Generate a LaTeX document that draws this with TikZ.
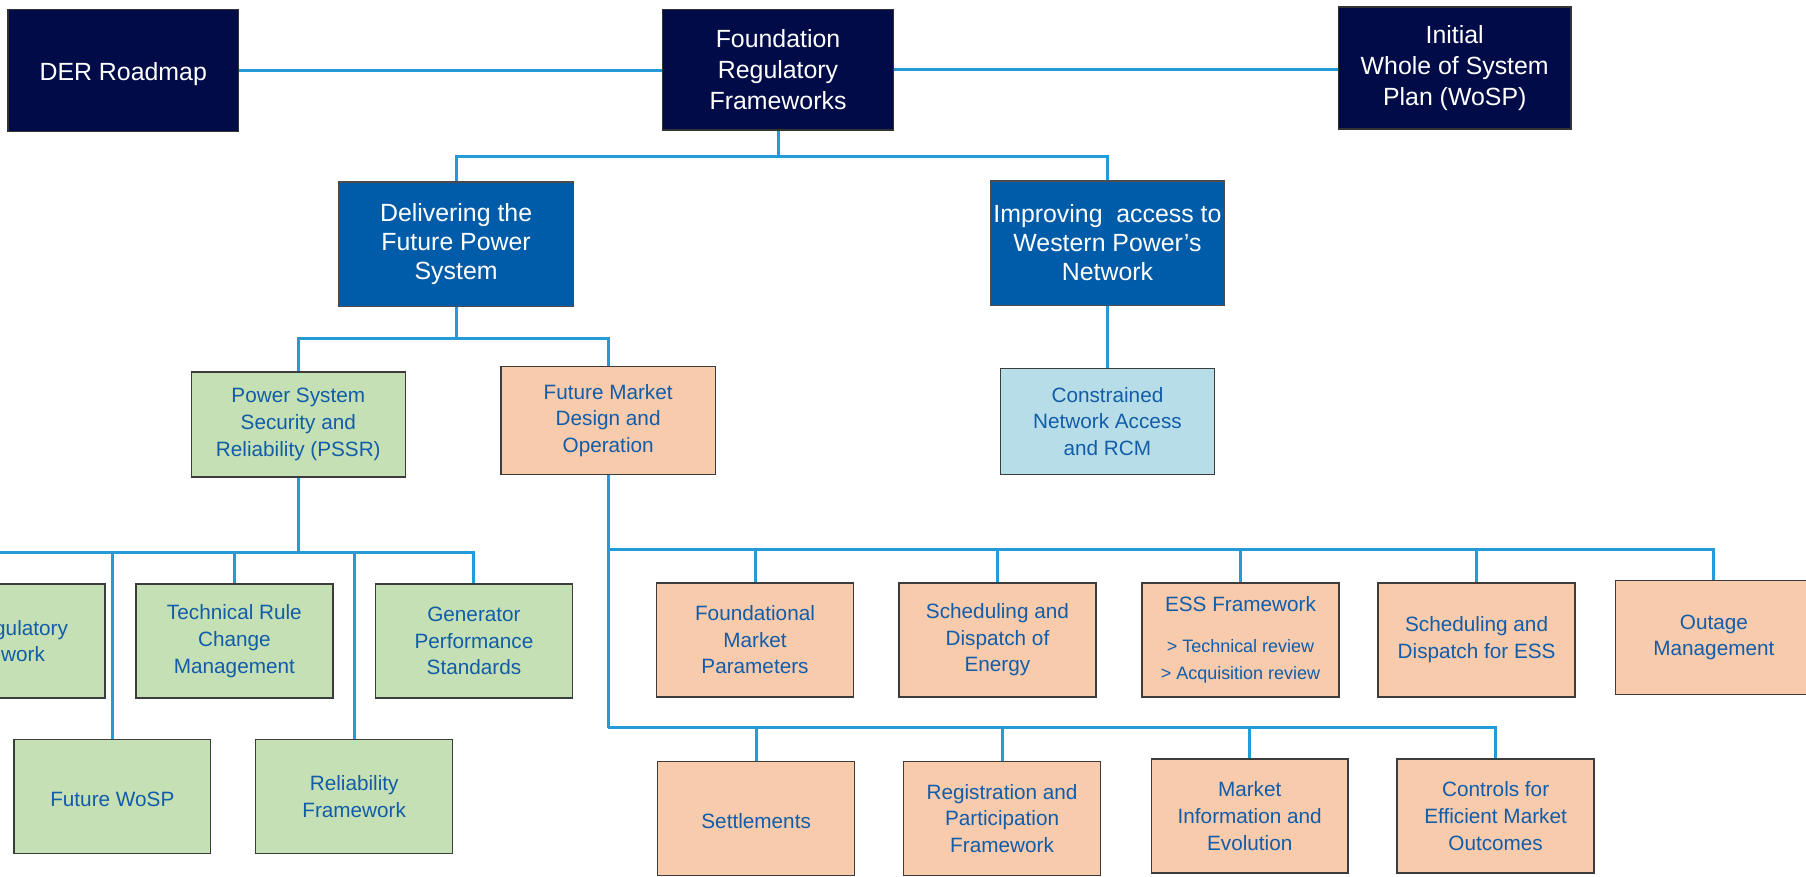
\documentclass[tikz,border=0pt]{standalone}
\usepackage{fontspec}
\setmainfont{Liberation Sans}
\definecolor{navyfill}{RGB}{0,11,72}
\definecolor{bluefill}{RGB}{0,92,168}
\definecolor{greenfill}{RGB}{197,224,180}
\definecolor{peachfill}{RGB}{248,203,173}
\definecolor{icefill}{RGB}{183,222,232}
\definecolor{linkblue}{RGB}{36,154,214}
\definecolor{labelblue}{RGB}{18,92,168}
\definecolor{edgegray}{RGB}{60,60,60}
\newcommand\navytxt{\fontsize{10.8}{13.5}\selectfont}
\newcommand\streamtxt{\fontsize{10.8}{12.6}\selectfont}
\newcommand\smalltxt{\fontsize{9}{11.6}\selectfont}
\newcommand\tinytxt{\fontsize{7.8}{11}\selectfont}
\tikzset{
  box/.style={draw=edgegray, line width=0.6pt, inner sep=0pt, align=center,
    font=\smalltxt, text=labelblue, minimum width=85.5pt, minimum height=49.5pt,
    execute at begin node={\rule{0pt}{1em}}},
  topbox/.style={box, fill=navyfill, draw=black!80, text=white, font=\navytxt,
    minimum width=100pt, minimum height=53pt},
  streambox/.style={box, fill=bluefill, draw=black!70, text=white, font=\streamtxt,
    minimum width=102pt, minimum height=54pt},
  greenbox/.style={box, fill=greenfill},
  peachbox/.style={box, fill=peachfill},
  icebox/.style={box, fill=icefill},
  link/.style={draw=linkblue, line width=1.3pt}
}
\begin{document}
\begin{tikzpicture}[x=0.5pt,y=-0.5pt]
\useasboundingbox (0,0) rectangle (1568,761);
\clip (0,0) rectangle (1568,761);
\fill[white] (0,0) rectangle (1568,761);

% junction points of the bus lines
\coordinate (busTop) at (675.5,136);
\coordinate (busDel) at (396,294);
\coordinate (busPssr) at (259,480);
\coordinate (busMktA) at (528,477);
\coordinate (busMktB) at (528,632);
\coordinate (busLeft) at (-20,480);

% top row
\node[topbox] (der) at (107,61) {DER Roadmap};
\node[topbox, minimum width=100.5pt, minimum height=52.5pt] (frf) at (675.5,60.5) {Foundation\\Regulatory\\Frameworks};
\node[topbox, minimum width=101pt] (wosp) at (1263,59) {Initial\\Whole of System\\Plan (WoSP)};

% streams
\node[streambox] (dfps) at (396,212) {Delivering the\\Future Power\\System};
\node[streambox, minimum width=101.5pt] (iawp) at (961.5,211) {Improving\ \ access to\\Western Power’s\\Network};

% second level
\node[greenbox, minimum width=93pt, minimum height=45.5pt] (pssr) at (259,368.5) {Power System\\Security and\\Reliability (PSSR)};
\node[peachbox, minimum width=93pt, minimum height=47pt] (fmdo) at (528,365) {Future Market\\Design and\\Operation};
\node[icebox, minimum width=93pt, minimum height=46pt] (cna) at (961.5,366) {Constrained\\Network Access\\and RCM};

% PSSR work items
\node[greenbox, minimum width=97pt] (drf) at (-6,556.5) {DER Regulatory\\Framework};
\node[greenbox] (trcm) at (203.5,556.5) {Technical Rule\\Change\\Management};
\node[greenbox] (gps) at (411.5,556.5) {Generator\\Performance\\Standards};
\node[greenbox] (fwosp) at (97.5,691.5) {Future WoSP};
\node[greenbox] (relf) at (307.5,691.5) {Reliability\\Framework};

% market work items, first row
\node[peachbox] (fmp) at (655.5,555.5) {Foundational\\Market\\Parameters};
\node[peachbox] (sde) at (866,555.5) {Scheduling and\\Dispatch of\\Energy};
\node[peachbox] (essf) at (1077,555.5) {ESS Framework\\[6pt]\tinytxt > Technical review\\\tinytxt > Acquisition review};
\node[peachbox] (sdess) at (1282,555.5) {Scheduling and\\Dispatch for ESS};
\node[peachbox] (outm) at (1488,553.5) {Outage\\Management};

% market work items, second row
\node[peachbox] (settle) at (656.5,710.5) {Settlements};
\node[peachbox] (rpf) at (870,710.5) {Registration and\\Participation\\Framework};
\node[peachbox] (mie) at (1085,708.5) {Market\\Information and\\Evolution};
\node[peachbox] (cemo) at (1298.5,708.5) {Controls for\\Efficient Market\\Outcomes};

% connectors
\draw[link] (der.east) -- (frf.west |- der.east);
\draw[link] (frf.east) -- (wosp.west |- frf.east);

\draw[link] (frf.south) -- (busTop);
\draw[link] (dfps.north) |- (busTop) -| (iawp.north);

\draw[link] (dfps.south) -- (busDel);
\draw[link] (pssr.north) |- (busDel) -| (fmdo.north);
\draw[link] (iawp.south) -- (cna.north);

\draw[link] (pssr.south) -- (busPssr);
\draw[link] (busLeft) -- (gps.north |- busPssr) -- (gps.north);
\draw[link] (drf.north |- busPssr) -- (drf.north);
\draw[link] (trcm.north |- busPssr) -- (trcm.north);
\draw[link] (fwosp.north |- busPssr) -- (fwosp.north);
\draw[link] (relf.north |- busPssr) -- (relf.north);

\draw[link] (fmdo.south) -- (busMktB);
\draw[link] (busMktA) -- (outm.north |- busMktA) -- (outm.north);
\draw[link] (fmp.north |- busMktA) -- (fmp.north);
\draw[link] (sde.north |- busMktA) -- (sde.north);
\draw[link] (essf.north |- busMktA) -- (essf.north);
\draw[link] (sdess.north |- busMktA) -- (sdess.north);

\draw[link] (busMktB) -- (cemo.north |- busMktB) -- (cemo.north);
\draw[link] (settle.north |- busMktB) -- (settle.north);
\draw[link] (rpf.north |- busMktB) -- (rpf.north);
\draw[link] (mie.north |- busMktB) -- (mie.north);
\end{tikzpicture}
\end{document}
